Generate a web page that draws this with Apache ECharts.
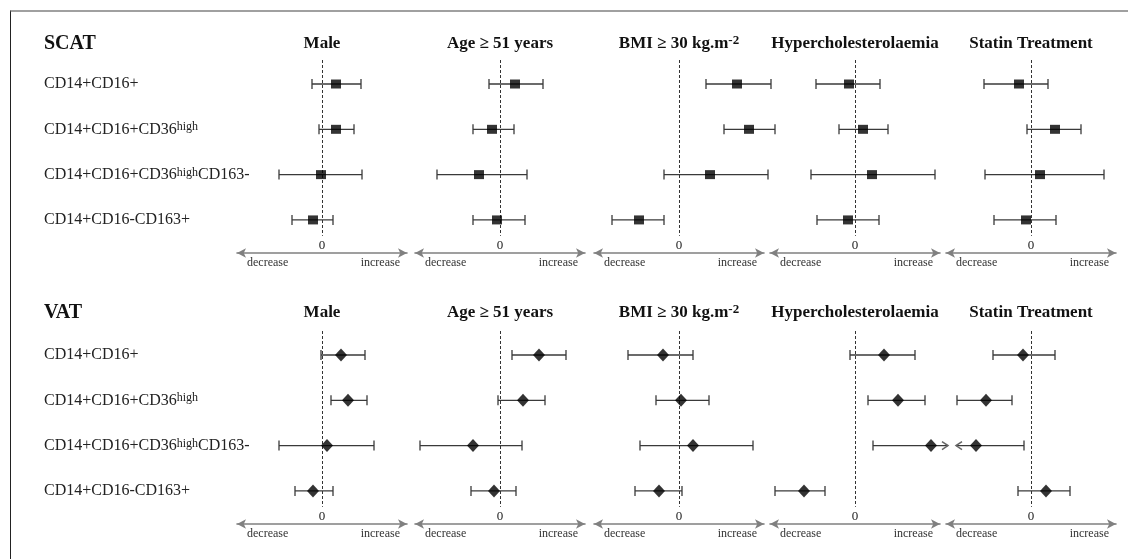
<!DOCTYPE html>
<html>
<head>
<meta charset="utf-8">
<script src="https://cdn.jsdelivr.net/npm/echarts@6/dist/echarts.min.js"></script>
<style>
html, body { margin: 0; padding: 0; background: #fff; }
#chart { width: 1128px; height: 559px; }
#frame { position: absolute; left: 10px; top: 10px; right: 0; bottom: 0; border-top: 2px solid #a0a0a0; border-left: 1.5px solid #222; pointer-events: none; }
</style>
</head>
<body>
<div id="chart"></div>
<div id="frame"></div>
<script>
// rows and columns
const rowNames = ['CD14+CD16+', 'CD14+CD16+CD36{sup|high}', 'CD14+CD16+CD36{sup|high}CD163-', 'CD14+CD16-CD163+'];
const factors = ['Male', 'Age \u2265 51 years', 'BMI \u2265 30 kg.m{sup|-2}', 'Hypercholesterolaemia', 'Statin Treatment'];
const panels = ['SCAT', 'VAT'];

// SCAT, one inner array per factor (rows top to bottom)
const scatEst = [
    [0.14, 0.14, -0.01, -0.09],
    [0.15, -0.08, -0.21, -0.03],
    [0.58, 0.70, 0.31, -0.40],
    [-0.06, 0.08, 0.17, -0.07],
    [-0.12, 0.24, 0.09, -0.05]
];
const scatLow = [
    [-0.10, -0.03, -0.43, -0.30],
    [-0.11, -0.27, -0.63, -0.27],
    [0.27, 0.45, -0.15, -0.67],
    [-0.39, -0.16, -0.44, -0.38],
    [-0.47, -0.04, -0.46, -0.37]
];
const scatHigh = [
    [0.39, 0.32, 0.40, 0.11],
    [0.43, 0.14, 0.27, 0.25],
    [0.92, 0.96, 0.89, -0.15],
    [0.25, 0.33, 0.80, 0.24],
    [0.17, 0.50, 0.73, 0.25]
];

// VAT
const vatEst = [
    [0.19, 0.26, 0.05, -0.09],
    [0.39, 0.23, -0.27, -0.06],
    [-0.16, 0.02, 0.14, -0.20],
    [0.29, 0.43, 0.76, -0.51],
    [-0.08, -0.45, -0.55, 0.15]
];
const vatLow = [
    [-0.01, 0.09, -0.43, -0.27],
    [0.12, -0.02, -0.80, -0.29],
    [-0.51, -0.23, -0.39, -0.44],
    [-0.05, 0.13, 0.18, -0.80],
    [-0.38, -0.74, -0.75, -0.13]
];
const vatHigh = [
    [0.43, 0.45, 0.52, 0.11],
    [0.66, 0.45, 0.22, 0.16],
    [0.14, 0.30, 0.74, 0.03],
    [0.60, 0.70, 0.93, -0.30],
    [0.24, -0.19, -0.07, 0.39]
];
// CIs running off the plot: [factor, row, end]
const vatOpen = [[3, 2, 'high'], [4, 2, 'low']];

const serif = '"Liberation Serif", "DejaVu Serif", serif';
const zeroX = [322, 500, 679, 855, 1031];
const halfW = 85;
const panelTop = [60, 331];
const titleY = [44, 313];
const gridH = 193;

const chart = echarts.init(document.getElementById('chart'));

function renderBar(params, api) {
    const row = api.value(0);
    const lo = api.coord([api.value(1), row]);
    const hi = api.coord([api.value(2), row]);
    const openLo = api.value(3), openHi = api.value(4);
    const st = { stroke: '#3a3a3a', lineWidth: 1.3 };
    const kids = [{ type: 'line', shape: { x1: lo[0], y1: lo[1], x2: hi[0], y2: hi[1] }, style: st }];
    if (openLo) {
        kids.push({ type: 'polyline', shape: { points: [[lo[0] + 6, lo[1] - 4], [lo[0], lo[1]], [lo[0] + 6, lo[1] + 4]] }, style: { stroke: '#666', lineWidth: 1.5, fill: null } });
    } else {
        kids.push({ type: 'line', shape: { x1: lo[0], y1: lo[1] - 5, x2: lo[0], y2: lo[1] + 5 }, style: st });
    }
    if (openHi) {
        kids.push({ type: 'polyline', shape: { points: [[hi[0] - 6, hi[1] - 4], [hi[0], hi[1]], [hi[0] - 6, hi[1] + 4]] }, style: { stroke: '#666', lineWidth: 1.5, fill: null } });
    } else {
        kids.push({ type: 'line', shape: { x1: hi[0], y1: hi[1] - 5, x2: hi[0], y2: hi[1] + 5 }, style: st });
    }
    return { type: 'group', children: kids };
}

const grids = [], xAxes = [], yAxes = [], series = [], graphics = [];

panels.forEach((panel, p) => {
    const est = p ? vatEst : scatEst;
    const low = p ? vatLow : scatLow;
    const high = p ? vatHigh : scatHigh;
    const open = p ? vatOpen : [];

    graphics.push({
        type: 'text', x: 44, y: titleY[p],
        style: { text: panel, fontFamily: serif, fontSize: 20, fontWeight: 'bold', fill: '#111', verticalAlign: 'middle' }
    });

    factors.forEach((f, c) => {
        const k = p * 5 + c;
        graphics.push({
            type: 'text', x: zeroX[c], y: titleY[p],
            style: {
                text: f, fontFamily: serif, fontSize: 17, fontWeight: 'bold', fill: '#111',
                align: 'center', verticalAlign: 'middle',
                rich: { sup: { fontFamily: serif, fontSize: 13, fontWeight: 'bold', fill: '#111', verticalAlign: 'top', padding: [0, 0, 6, 0] } }
            }
        });

        grids.push({ left: zeroX[c] - halfW, top: panelTop[p], width: halfW * 2, height: gridH });

        xAxes.push({
            gridIndex: k, type: 'value', position: 'bottom', min: -0.85, max: 0.85, interval: 0.85,
            axisLine: { onZero: false, symbol: ['arrow', 'arrow'], symbolSize: [7, 9], lineStyle: { color: '#808080', width: 1.6 } },
            axisTick: { show: false }, splitLine: { show: false },
            axisLabel: { inside: true, margin: 1, fontFamily: serif, fontSize: 13, color: '#222', formatter: v => v === 0 ? '0' : '' }
        });
        xAxes.push({
            gridIndex: k, type: 'value', position: 'bottom', min: -0.85, max: 0.85, interval: 0.85,
            axisLine: { show: false, onZero: false }, axisTick: { show: false }, splitLine: { show: false },
            axisLabel: {
                margin: 4, fontFamily: serif, fontSize: 12, color: '#333',
                alignMinLabel: 'left', alignMaxLabel: 'right',
                formatter: v => v < 0 ? '{d|decrease}' : (v > 0 ? '{i|increase}' : ''),
                rich: {
                    d: { fontFamily: serif, fontSize: 12, color: '#333', padding: [0, 0, 0, 10] },
                    i: { fontFamily: serif, fontSize: 12, color: '#333', padding: [0, 7, 0, 0] }
                }
            }
        });
        yAxes.push({
            gridIndex: k, type: 'value', inverse: true, min: -0.53, max: 3.73,
            show: c === 0,
            axisLine: { show: false, onZero: false }, axisTick: { show: false }, splitLine: { show: false },
            axisLabel: {
                align: 'left', margin: zeroX[0] - halfW - 44,
                fontFamily: serif, fontSize: 16, color: '#222',
                formatter: v => Number.isInteger(v) && rowNames[v] ? rowNames[v] : '',
                rich: { sup: { fontFamily: serif, fontSize: 12, color: '#222', verticalAlign: 'top', padding: [0, 0, 4, 0] } }
            }
        });

        const barData = rowNames.map((r, i) => {
            const oLo = open.some(o => o[0] === c && o[1] === i && o[2] === 'low') ? 1 : 0;
            const oHi = open.some(o => o[0] === c && o[1] === i && o[2] === 'high') ? 1 : 0;
            return [i, low[c][i], high[c][i], oLo, oHi];
        });
        series.push({
            type: 'custom', xAxisIndex: 2 * k, yAxisIndex: k, silent: true,
            renderItem: renderBar,
            encode: { x: [1, 2], y: 0 },
            data: barData
        });
        series.push({
            type: 'scatter', xAxisIndex: 2 * k, yAxisIndex: k, silent: true, clip: false, z: 5,
            symbol: p ? 'diamond' : 'rect',
            symbolSize: p ? [12, 13] : [10, 9],
            itemStyle: { color: '#000' },
            data: est[c].map((v, i) => [v, i]),
            markLine: {
                silent: true, symbol: 'none', label: { show: false },
                lineStyle: { color: '#333', width: 1, type: [3, 2] },
                data: [[{ coord: [0, -0.53] }, { coord: [0, 3.35] }]]
            }
        });
    });
});

chart.setOption({
    animation: false,
    backgroundColor: '#fff',
    grid: grids,
    xAxis: xAxes,
    yAxis: yAxes,
    series: series,
    graphic: graphics
});
</script>
</body>
</html>
